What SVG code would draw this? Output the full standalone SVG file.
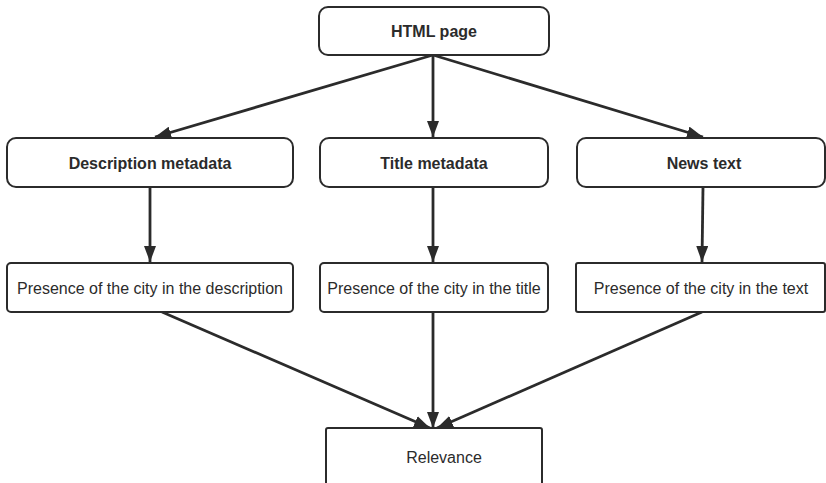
<svg xmlns="http://www.w3.org/2000/svg" width="826" height="483" viewBox="0 0 826 483">
<style>
.box{fill:#fff;stroke:#2b2b2b;stroke-width:2}
.b{font-family:"Liberation Sans",Arial,sans-serif;font-size:16px;font-weight:bold;fill:#2b2b2b;text-anchor:middle}
.t{font-family:"Liberation Sans",Arial,sans-serif;font-size:16px;fill:#2b2b2b;text-anchor:middle}
.c{stroke:#2b2b2b;stroke-width:2.8;fill:none;marker-end:url(#ah)}
</style>
<defs>
<marker id="ah" viewBox="0 0 16 12" refX="16" refY="6" markerWidth="16" markerHeight="12" markerUnits="userSpaceOnUse" orient="auto">
<path d="M0,0 L16,6 L0,12 z" fill="#2b2b2b"/>
</marker>
</defs>
<rect width="826" height="483" fill="#fff"/>
<g id="connectors">
<line class="c" x1="433" y1="55" x2="155" y2="137"/>
<line class="c" x1="433" y1="55" x2="433" y2="137"/>
<line class="c" x1="433" y1="55" x2="703" y2="137"/>
<line class="c" x1="150" y1="187" x2="150" y2="262"/>
<line class="c" x1="433" y1="187" x2="433" y2="262"/>
<line class="c" x1="703" y1="187" x2="702" y2="262"/>
<line class="c" x1="162" y1="312" x2="430" y2="428"/>
<line class="c" x1="433" y1="312" x2="433" y2="428"/>
<line class="c" x1="702" y1="312" x2="437" y2="428"/>
</g>
<g id="html"><rect class="box" x="319" y="7" width="230" height="48" rx="9"/><text class="b" x="434" y="37">HTML page</text></g>
<g id="desc"><rect class="box" x="7" y="138" width="286" height="49" rx="9"/><text class="b" x="150" y="169">Description metadata</text></g>
<g id="title"><rect class="box" x="320" y="138" width="228" height="49" rx="9"/><text class="b" x="434" y="169">Title metadata</text></g>
<g id="news"><rect class="box" x="577" y="138" width="248" height="49" rx="9"/><text class="b" x="704" y="169">News text</text></g>
<g id="pdesc"><rect class="box" x="7" y="263" width="286" height="49" rx="4"/><text class="t" x="150" y="294">Presence of the city in the description</text></g>
<g id="ptitle"><rect class="box" x="320" y="263" width="228" height="49" rx="4"/><text class="t" x="434" y="294">Presence of the city in the title</text></g>
<g id="ptext"><rect class="box" x="576" y="263" width="249" height="49" rx="2"/><text class="t" x="701" y="294">Presence of the city in the text</text></g>
<g id="relevance"><rect class="box" x="326" y="428" width="216" height="60" rx="2"/><text class="t" x="444" y="463">Relevance</text></g>
</svg>
